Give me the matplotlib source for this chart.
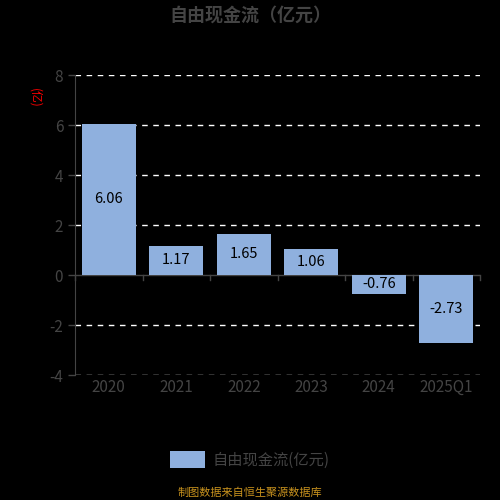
import matplotlib.pyplot as plt

plt.rcParams['font.family'] = ['Noto Sans CJK SC', 'DejaVu Sans']
plt.rcParams['axes.unicode_minus'] = False

# data
categories = ['2020', '2021', '2022', '2023', '2024', '2025Q1']
values = [6.06, 1.17, 1.65, 1.06, -0.76, -2.73]
yticks = [-4, -2, 0, 2, 4, 6, 8]

bar_color = '#8fb0de'
grey = '#444444'

fig = plt.figure(figsize=(5, 5), dpi=100, facecolor='black')
ax = fig.add_axes([0.15, 0.25, 0.81, 0.60], facecolor='black')

x = list(range(len(categories)))
bars = ax.bar(x, values, width=0.8, color=bar_color, zorder=3, label='自由现金流(亿元)')
for xi, v in zip(x, values):
    ax.text(xi, v / 2, f'{v:.2f}', ha='center', va='center', fontsize=10.5, color='black', zorder=4)

ax.set_xlim(-0.5, len(categories) - 0.5)
ax.set_ylim(-4, 8)
ax.set_yticks(yticks)
for t in yticks:
    if t != 0:
        ax.axhline(t, color='white', lw=1, ls=(0, (4, 4)), zorder=1)

# category axis along zero line with boundary ticks
ax.axhline(0, color=grey, lw=1, zorder=2)
for b in range(len(categories) + 1):
    ax.plot([b - 0.5, b - 0.5], [0, -0.2], color=grey, lw=1, zorder=2, clip_on=False)

ax.set_xticks(x)
ax.set_xticklabels(categories)
ax.tick_params(axis='x', length=0, colors=grey, labelsize=11, pad=3)
ax.tick_params(axis='y', length=5, colors=grey, labelsize=11, width=1)
for s in ['top', 'right', 'bottom']:
    ax.spines[s].set_visible(False)
ax.spines['left'].set_color(grey)

fig.text(0.07, 0.805, '(亿)', color='red', fontsize=8.5, rotation=-90, ha='center', va='center')
fig.text(0.5, 0.97, '自由现金流（亿元）', color=grey, fontsize=13, fontweight='bold', ha='center', va='center')

leg = fig.legend(handles=[bars], loc='center', bbox_to_anchor=(0.5, 0.08), frameon=False,
                 fontsize=11, handlelength=2.3, handleheight=1.3, handletextpad=0.5, labelcolor=grey)
fig.text(0.5, 0.015, '制图数据来自恒生聚源数据库', color='#c8921e', fontsize=8, ha='center', va='center')

fig.savefig('out.png', dpi=100, facecolor='black')
